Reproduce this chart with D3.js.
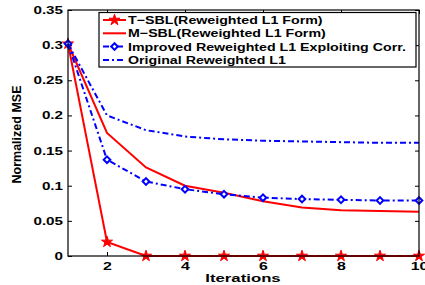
<!DOCTYPE html>
<html>
<head>
<meta charset="utf-8">
<script src="https://cdn.jsdelivr.net/npm/d3@7"></script>
<style>
  body { margin: 0; background: #fff; }
  text { font-family: "Liberation Sans", Arial, sans-serif; font-weight: bold; fill: #000; }
</style>
</head>
<body>
<svg id="chart" width="425" height="285"></svg>
<script>
const iterations = [1, 2, 3, 4, 5, 6, 7, 8, 9, 10];
const tsbl = [0.302, 0.020, 0, 0, 0, 0, 0, 0, 0, 0];
const msbl = [0.302, 0.175, 0.126, 0.100, 0.090, 0.078, 0.069, 0.065, 0.064, 0.063];
const improved = [0.302, 0.137, 0.106, 0.095, 0.088, 0.083, 0.081, 0.080, 0.079, 0.079];
const original = [0.302, 0.200, 0.179, 0.170, 0.166, 0.164, 0.163, 0.162, 0.161, 0.161];
const xTicks = [2, 4, 6, 8, 10];
const yTicks = [0, 0.05, 0.1, 0.15, 0.2, 0.25, 0.3, 0.35];
const legendLabels = [
  "T\u2212SBL(Reweighted L1 Form)",
  "M\u2212SBL(Reweighted L1 Form)",
  "Improved Reweighted L1 Exploiting Corr.",
  "Original Reweighted L1"
];

const margin = { top: 10, right: 6, bottom: 29, left: 68 };
const width = 425 - margin.left - margin.right;
const height = 285 - margin.top - margin.bottom;

const svg = d3.select("#chart");
const g = svg.append("g").attr("transform", `translate(${margin.left},${margin.top})`);

const x = d3.scaleLinear().domain([1, 10]).range([0, width]);
const y = d3.scaleLinear().domain([0, 0.35]).range([height, 0]);

// the original figure is stretched sideways, so widen the glyphs a bit
function stretch(sel, k) {
  sel.each(function() {
    const w = this.getComputedTextLength();
    d3.select(this).attr("textLength", w * k).attr("lengthAdjust", "spacingAndGlyphs");
  });
}

const tickFmt = d => d === 0 ? "0" : String(+d.toFixed(2));
g.append("g").attr("transform", `translate(0,${height})`)
  .call(d3.axisBottom(x).tickValues(xTicks).tickSize(-4).tickPadding(6))
  .call(a => a.selectAll("text").attr("font-size", 11.5));
g.append("g")
  .call(d3.axisTop(x).tickValues(xTicks).tickSize(-4).tickFormat(""));
g.append("g")
  .call(d3.axisLeft(y).tickValues(yTicks).tickSize(-4).tickPadding(5).tickFormat(tickFmt))
  .call(a => a.selectAll("text").attr("font-size", 11));
g.append("g").attr("transform", `translate(${width},0)`)
  .call(d3.axisRight(y).tickValues(yTicks).tickSize(-4).tickFormat(""));
g.selectAll(".domain").remove();
g.selectAll(".tick line").attr("stroke", "#000");
g.selectAll(".tick text").attr("fill", "#000")
  .style("font-family", "Liberation Sans, Arial, sans-serif").style("font-weight", "bold")
  .call(stretch, 1.38);

const line = d3.line().x((d, i) => x(iterations[i])).y(d => y(d));

const series = [
  { values: tsbl, color: "#ff0000", dash: null, marker: "star" },
  { values: msbl, color: "#ff0000", dash: null, marker: null },
  { values: improved, color: "#0000ff", dash: "6,3,2,3", marker: "diamond" },
  { values: original, color: "#0000ff", dash: "6,3,2,3", marker: null }
];

const star = d3.symbol().type(d3.symbolStar).size(38);
const diamond = d3.symbol().type(d3.symbolSquare).size(22);

function drawMarker(sel, type, color) {
  if (type === "star") {
    sel.attr("d", star).attr("fill", color).attr("stroke", color).attr("stroke-width", 1);
  } else {
    sel.attr("d", diamond).attr("fill", "#fff").attr("stroke", color).attr("stroke-width", 2);
  }
}
const markerRot = type => type === "diamond" ? " rotate(45)" : "";

series.forEach(s => {
  g.append("path").datum(s.values)
    .attr("fill", "none").attr("stroke", s.color).attr("stroke-width", 2)
    .attr("stroke-dasharray", s.dash).attr("d", line);
  if (s.marker) {
    g.selectAll(null).data(s.values).enter().append("path")
      .attr("transform", (d, i) => `translate(${x(iterations[i])},${y(d)})${markerRot(s.marker)}`)
      .call(sel => drawMarker(sel, s.marker, s.color));
  }
});

g.append("rect").attr("width", width).attr("height", height)
  .attr("fill", "none").attr("stroke", "#000").attr("stroke-width", 1.2);

// legend
const lg = svg.append("g").attr("transform", "translate(99,12.5)");
lg.append("rect").attr("width", 317).attr("height", 54.5)
  .attr("fill", "#fff").attr("stroke", "#000").attr("stroke-width", 1.2);
series.forEach((s, i) => {
  const ly = 7.5 + i * 13.3;
  lg.append("line").attr("x1", 4).attr("x2", 27).attr("y1", ly).attr("y2", ly)
    .attr("stroke", s.color).attr("stroke-width", 2).attr("stroke-dasharray", s.dash);
  if (s.marker) {
    lg.append("path").attr("transform", `translate(15.5,${ly})${markerRot(s.marker)}`)
      .call(sel => drawMarker(sel, s.marker, s.color));
  }
  lg.append("text").attr("x", 29).attr("y", ly + 4).attr("font-size", 11.2)
    .text(legendLabels[i]).call(stretch, 1.27);
});

// axis labels
svg.append("text").attr("x", margin.left + width / 2 - 0.5).attr("y", 281.5)
  .attr("text-anchor", "middle").attr("font-size", 11.8).text("Iterations")
  .call(stretch, 1.42);
svg.append("text").attr("transform", "translate(21,134.5) rotate(-90)")
  .attr("text-anchor", "middle").attr("font-size", 12.5).text("Normalized MSE");
</script>
</body>
</html>
